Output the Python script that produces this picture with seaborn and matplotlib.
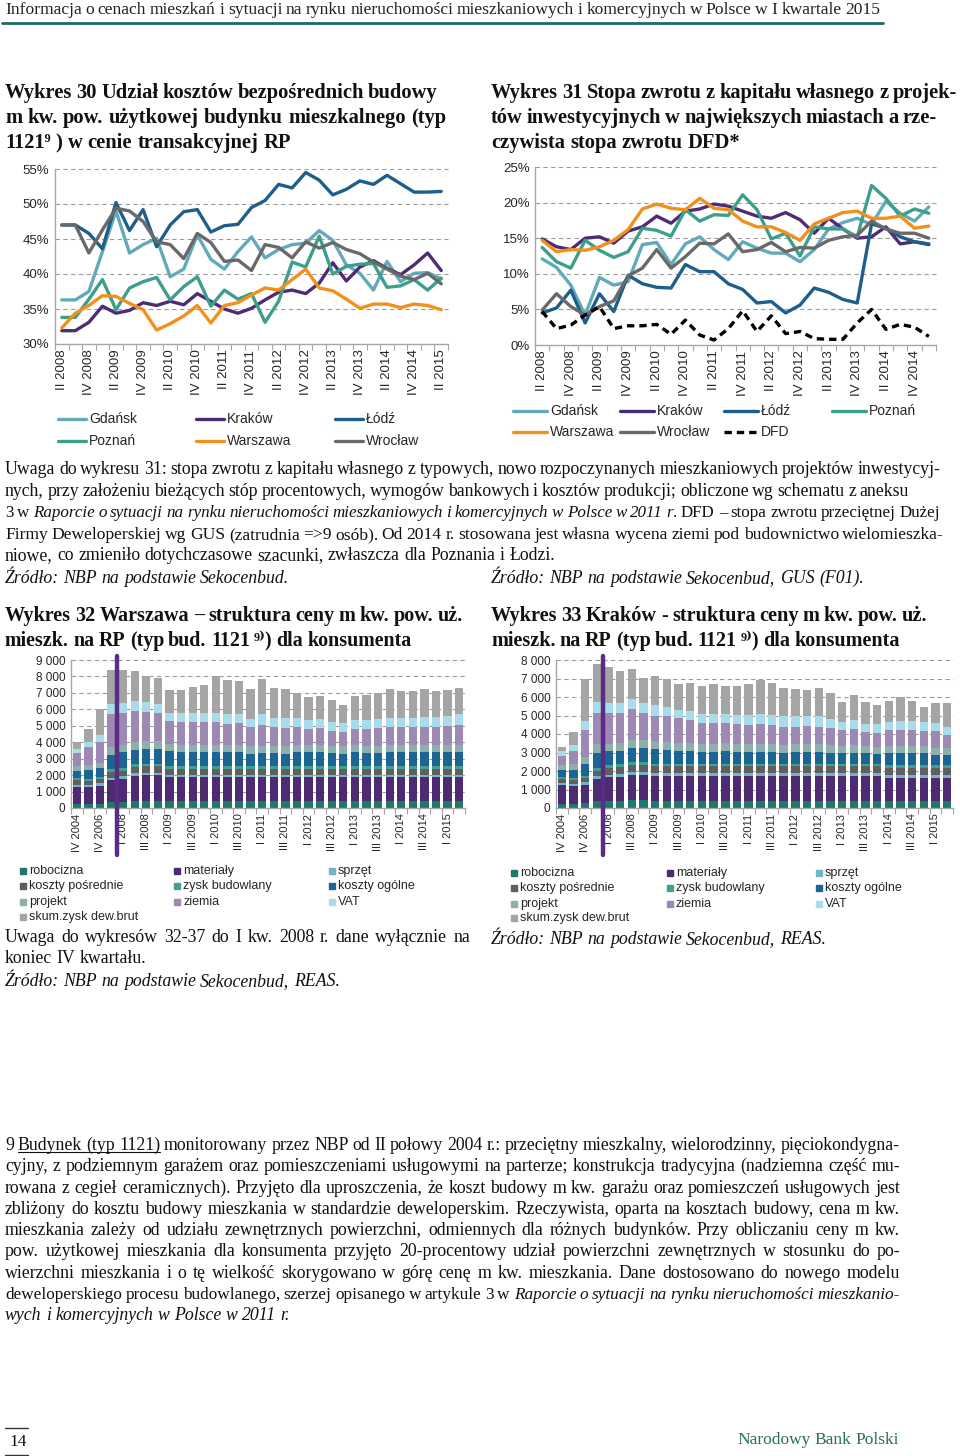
import numpy as np
import pandas as pd
import matplotlib
matplotlib.use('Agg')
import matplotlib.pyplot as plt
from matplotlib.lines import Line2D
from matplotlib.patches import Rectangle
import seaborn as sns

sns.set_theme(style='white')
plt.rcParams['font.family'] = ['Liberation Sans', 'DejaVu Sans']

W, H = 960, 1456
SERIF = ['Liberation Serif', 'DejaVu Serif']
NARROW = ['Liberation Sans Narrow', 'Liberation Sans', 'DejaVu Sans']
BODY = 12.8
TITLE = 14.8


def quarter_labels(year, q, n):
    roman = ['I', 'II', 'III', 'IV']
    out = []
    for _ in range(n):
        out.append(f'{roman[q - 1]} {year}')
        q += 1
        if q == 5:
            q, year = 1, year + 1
    return out


#%% Data - chart 30 (share of direct costs in price, %)
q30 = quarter_labels(2008, 2, 29)
cities = ['Gdańsk', 'Kraków', 'Łódź', 'Poznań', 'Warszawa', 'Wrocław']
city_colors = ['#62A9BA', '#4E2C73', '#1D5F8A', '#3D9E8C', '#F2901D', '#696969']

gdansk_30 = [36.3, 36.3, 37.5, 43.2, 49.0, 43.0, 44.2, 45.1, 39.6, 40.7, 45.6, 42.1, 40.7, 43.2, 45.3,
             42.3, 43.5, 44.2, 44.4, 46.2, 44.8, 41.3, 40.1, 37.7, 41.8, 38.9, 40.1, 40.2, 39.3]
krakow_30 = [31.9, 31.9, 33.1, 35.4, 34.4, 34.8, 35.9, 35.5, 36.1, 35.6, 37.2, 36.1, 35.0, 34.4, 35.1,
             36.3, 37.4, 37.7, 37.2, 38.7, 41.6, 39.0, 41.0, 41.9, 40.8, 39.9, 41.3, 43.0, 40.5]
lodz_30 = [47.0, 47.0, 45.8, 43.6, 50.2, 46.2, 49.2, 43.9, 47.0, 48.9, 49.2, 46.0, 46.9, 47.1, 49.5,
           50.5, 52.8, 52.3, 54.5, 53.4, 51.3, 52.1, 53.3, 52.8, 54.1, 52.9, 51.7, 51.7, 51.8]
poznan_30 = [33.8, 33.8, 36.4, 39.2, 34.9, 38.0, 38.9, 39.5, 36.3, 38.2, 39.6, 35.4, 37.7, 36.4, 37.2,
             33.1, 36.1, 41.7, 41.0, 45.4, 40.0, 41.1, 41.4, 41.5, 38.1, 38.3, 39.2, 37.7, 39.4]
warszawa_30 = [32.3, 34.4, 35.5, 36.9, 36.8, 35.8, 34.9, 32.0, 32.9, 34.0, 35.5, 33.0, 35.5, 35.9, 37.0,
               38.0, 37.7, 39.2, 40.7, 38.0, 37.6, 36.4, 35.1, 35.7, 35.7, 35.2, 35.7, 35.5, 34.9]
wroclaw_30 = [47.0, 47.0, 43.0, 46.3, 49.4, 49.0, 47.5, 44.6, 44.2, 42.2, 45.8, 44.5, 41.8, 42.0, 40.5,
              44.2, 43.8, 42.3, 44.6, 43.7, 44.5, 43.5, 42.9, 41.7, 40.7, 39.7, 39.2, 40.1, 38.6]

#%% Data - chart 31 (return on equity, %)
q31 = quarter_labels(2008, 2, 28)
gdansk_31 = [12.1, 10.9, 8.4, 4.2, 9.5, 8.4, 8.9, 14.1, 14.4, 11.3, 14.2, 15.2, 13.4, 12.0,
             14.5, 13.6, 12.9, 12.9, 11.7, 13.4, 16.3, 17.2, 17.8, 16.9, 20.2, 18.5, 17.4, 19.4]
krakow_31 = [14.9, 13.8, 13.4, 15.0, 15.2, 14.3, 16.0, 16.6, 18.1, 17.1, 18.8, 19.1, 19.8, 19.5,
             18.8, 18.1, 17.8, 18.6, 17.6, 15.7, 17.8, 16.3, 15.0, 15.2, 16.6, 14.2, 14.5, 14.1]
lodz_31 = [4.5, 5.2, 7.7, 3.1, 7.2, 4.7, 9.8, 8.6, 8.1, 8.0, 11.3, 10.3, 10.3, 8.6,
           7.8, 5.9, 6.1, 4.5, 5.6, 8.0, 7.4, 6.4, 5.9, 17.0, 16.4, 15.2, 14.5, 14.2]
poznan_31 = [13.7, 11.7, 10.8, 14.7, 13.3, 12.3, 13.1, 16.4, 16.1, 15.3, 19.0, 17.4, 18.3, 18.2,
             21.1, 19.0, 14.9, 15.7, 12.5, 16.6, 16.3, 16.3, 15.2, 22.4, 20.6, 18.1, 19.1, 18.5]
warszawa_31 = [14.7, 13.1, 13.4, 13.3, 13.8, 14.7, 16.2, 19.1, 19.8, 19.2, 19.0, 20.6, 19.2, 19.0,
               17.4, 16.6, 16.6, 15.8, 14.7, 17.0, 17.8, 18.6, 18.8, 17.8, 17.8, 18.1, 16.4, 16.7]
wroclaw_31 = [4.9, 7.2, 5.4, 4.2, 5.4, 6.2, 9.7, 10.8, 13.4, 10.8, 12.4, 14.3, 14.2, 15.6,
              13.1, 13.4, 14.4, 13.1, 13.7, 13.6, 14.7, 15.2, 15.4, 17.4, 16.3, 15.7, 15.7, 15.0]
dfd_31 = [4.7, 2.3, 2.8, 4.2, 5.4, 2.3, 2.7, 2.7, 2.9, 1.5, 3.5, 1.4, 0.7, 2.3,
          4.8, 1.9, 4.1, 1.6, 1.9, 0.9, 0.8, 0.8, 3.1, 5.0, 2.2, 2.9, 2.5, 1.2]

#%% Data - charts 32/33 (price structure per sq m, PLN)
q_bars = ['IV 2004', 'IV 2005', 'IV 2006', 'IV 2007'] + quarter_labels(2008, 1, 30)
components = ['robocizna', 'materiały', 'sprzęt', 'koszty pośrednie', 'zysk budowlany',
              'koszty ogólne', 'projekt', 'ziemia', 'VAT', 'skum.zysk dew.brut']
comp_colors = ['#1D7A6B', '#4E2A73', '#72B5C8', '#5F5F5F', '#3FA08F',
               '#1C6494', '#8DB0AA', '#9D89B3', '#A9DCEA', '#A5A5A5']

waw = {
    'robocizna': [260, 250, 270, 380, 380, 420, 450, 450, 450, 450, 450, 450, 450, 450, 450, 450, 450,
                  450, 450, 450, 450, 450, 450, 450, 450, 450, 450, 450, 450, 450, 450, 450, 450, 450],
    'materiały': [1020, 1030, 1080, 1320, 1400, 1550, 1550, 1550, 1430, 1430, 1430, 1430, 1430, 1430, 1430,
                  1430, 1430, 1430, 1430, 1430, 1430, 1430, 1430, 1430, 1430, 1430, 1430, 1430, 1430, 1430,
                  1430, 1430, 1430, 1430],
    'sprzęt': [140, 130, 150, 150, 150, 130, 130, 130, 150, 150, 150, 150, 150, 150, 150, 150, 150,
               150, 150, 150, 150, 150, 150, 150, 150, 150, 150, 150, 150, 150, 150, 150, 150, 150],
    'koszty pośrednie': [270, 250, 250, 350, 350, 400, 400, 400, 370, 370, 370, 370, 370, 370, 370, 370, 370,
                         370, 370, 370, 370, 370, 370, 370, 370, 370, 370, 370, 370, 370, 370, 370, 370, 370],
    'zysk budowlany': [140, 130, 130, 150, 150, 150, 150, 150, 150, 150, 150, 150, 150, 150, 150, 150, 150,
                       150, 150, 150, 150, 150, 150, 150, 150, 150, 150, 150, 150, 150, 150, 150, 150, 150],
    'koszty ogólne': [410, 500, 560, 850, 970, 900, 920, 920, 900, 850, 850, 850, 850, 850, 850, 750, 800,
                      800, 750, 850, 850, 850, 800, 750, 850, 800, 800, 850, 850, 850, 850, 850, 850, 850],
    'projekt': [320, 350, 300, 500, 450, 450, 450, 450, 450, 450, 450, 450, 450, 450, 450, 450, 450,
                450, 450, 450, 450, 450, 450, 450, 450, 450, 450, 450, 450, 450, 450, 450, 450, 450],
    'ziemia': [810, 1050, 1300, 2000, 1950, 1900, 1800, 1700, 1400, 1400, 1400, 1350, 1400, 1250, 1300,
               1150, 1250, 1100, 1100, 1050, 950, 1000, 900, 850, 950, 1000, 1050, 1050, 1050, 1050,
               1100, 1100, 1150, 1200],
    'VAT': [210, 300, 420, 600, 600, 600, 600, 550, 500, 500, 550, 550, 550, 600, 550, 500, 650,
            600, 600, 550, 550, 550, 550, 550, 550, 550, 550, 550, 550, 550, 600, 600, 600, 650],
    'skum.zysk dew.brut': [420, 810, 1590, 2100, 2000, 1850, 1600, 1600, 1400, 1450, 1550, 1730, 2200, 2080,
                           2000, 1830, 2150, 1800, 1780, 1570, 1430, 1430, 1300, 1100, 1470, 1500, 1620,
                           1780, 1650, 1650, 1680, 1550, 1570, 1570],
}

krk = {
    'robocizna': [230, 230, 250, 380, 380, 400, 420, 420, 400, 400, 400, 400, 400, 400, 400, 400, 400,
                  400, 400, 400, 400, 400, 400, 400, 400, 400, 400, 400, 400, 400, 400, 400, 400, 400],
    'materiały': [1000, 970, 1000, 1200, 1270, 1300, 1380, 1380, 1320, 1320, 1320, 1320, 1320, 1320, 1320,
                  1320, 1320, 1320, 1320, 1320, 1320, 1320, 1320, 1320, 1320, 1320, 1320, 1320, 1230, 1230,
                  1230, 1230, 1230, 1230],
    'sprzęt': [120, 120, 130, 130, 150, 150, 150, 150, 150, 150, 150, 150, 150, 150, 150, 150, 150,
               150, 150, 150, 150, 150, 150, 150, 150, 150, 150, 150, 150, 150, 150, 150, 150, 150],
    'koszty pośrednie': [200, 200, 250, 300, 380, 380, 380, 380, 380, 380, 380, 380, 380, 380, 380, 380, 380,
                         380, 380, 380, 380, 380, 380, 380, 380, 380, 380, 380, 380, 380, 380, 380, 380, 380],
    'zysk budowlany': [100, 120, 120, 150, 150, 150, 150, 150, 150, 150, 150, 150, 150, 150, 150, 150, 150,
                       150, 150, 150, 150, 150, 150, 150, 150, 150, 150, 150, 150, 150, 150, 150, 150, 150],
    'koszty ogólne': [390, 420, 650, 840, 740, 720, 770, 770, 800, 750, 700, 700, 650, 650, 700, 650, 650,
                      650, 650, 600, 650, 650, 650, 600, 550, 600, 550, 500, 640, 640, 640, 640, 540, 540],
    'projekt': [260, 300, 350, 450, 400, 400, 400, 400, 400, 400, 400, 400, 400, 400, 400, 400, 400,
                400, 400, 400, 400, 400, 400, 400, 400, 400, 400, 400, 400, 400, 400, 400, 400, 400],
    'ziemia': [520, 740, 1450, 1700, 1680, 1650, 1700, 1500, 1400, 1400, 1350, 1250, 1150, 1150, 1100,
               1100, 1050, 1100, 1050, 1000, 950, 1000, 950, 900, 850, 850, 750, 750, 850, 850,
               850, 800, 900, 700],
    'VAT': [250, 300, 500, 600, 550, 550, 550, 500, 550, 500, 450, 500, 500, 500, 500, 500, 550,
            550, 550, 550, 550, 500, 550, 500, 450, 500, 450, 500, 450, 500, 500, 500, 450, 450],
    'skum.zysk dew.brut': [230, 700, 2300, 2050, 1900, 1680, 1600, 1400, 1570, 1550, 1400, 1530, 1480, 1620,
                           1500, 1550, 1650, 1800, 1700, 1550, 1470, 1450, 1550, 1400, 1080, 1370, 1180,
                           1030, 1150, 1280, 1060, 830, 1050, 1260],
}

#%% Figure and helpers (all positions in page pixels)
fig = plt.figure(figsize=(W / 100, H / 100), dpi=100)
fig.patch.set_facecolor('white')
renderer = fig.canvas.get_renderer()


def fx(x):
    return x / W


def fy(y):
    return 1 - y / H


def axes_px(l, t, r, b):
    return fig.add_axes([l / W, 1 - b / H, (r - l) / W, (b - t) / H])


def put_line(x, y, parts, size=BODY, width=None, color='#111111', weight='normal'):
    # parts: list of (text, style) with style 'n' normal, 'i' italic, 'u' underlined
    words = [[]]
    for text, st in parts:
        for k, c in enumerate(text.split(' ')):
            if k > 0:
                words.append([])
            if c:
                words[-1].append((c, st))
    words = [w for w in words if w]
    placed, total = [], 0
    for w in words:
        segs = []
        for c, st in w:
            t = fig.text(0, fy(y), c, fontsize=size, family=SERIF, color=color, va='baseline',
                         ha='left', fontweight=weight, fontstyle='italic' if st == 'i' else 'normal')
            segs.append([t, t.get_window_extent(renderer).width, st])
        placed.append(segs)
        total += sum(s[1] for s in segs)
    gap = size * 100 / 72 * 0.25
    if width is not None and len(placed) > 1:
        need = total + 0.85 * gap * (len(placed) - 1)
        if need > width:
            # line too long for the column: shrink its type a little
            f = width / need
            for segs in placed:
                for s in segs:
                    s[0].set_fontsize(size * f)
                    s[1] *= f
            total *= f
        gap = (width - total) / (len(placed) - 1)
    cx = x
    under = []
    for segs in placed:
        for t, wd, st in segs:
            t.set_x(fx(cx))
            if st == 'u':
                under += [cx, cx + wd]
            cx += wd
        cx += gap
    if under:
        fig.add_artist(Line2D([fx(min(under)), fx(max(under))], [fy(y + 2)] * 2, color=color, lw=0.8))


def style_axes(ax, labels, ylim, yticks, yfmt, xsize, ysize):
    n = len(labels)
    ax.set_xlim(-0.5, n - 0.5)
    ax.set_ylim(*ylim)
    ax.set_yticks(yticks)
    ax.set_yticklabels([yfmt(v) for v in yticks], fontsize=ysize)
    ax.set_xticks(np.arange(0, n, 2))
    ax.set_xticklabels(labels[::2], rotation=90, fontsize=xsize)
    ax.set_xticks(np.arange(-0.5, n, 1), minor=True)
    ax.tick_params(axis='x', which='major', length=0, pad=4, bottom=True)
    ax.tick_params(axis='x', which='minor', length=4, color='#A6A6A6', width=0.8,
                   direction='out', bottom=True)
    ax.tick_params(axis='y', length=0, pad=4)
    ax.grid(False)
    for v in yticks[1:]:
        ax.axhline(v, color='#9C9C9C', lw=0.8, ls=(0, (4, 3)), zorder=0, clip_on=False)
    for s in ['top', 'right']:
        ax.spines[s].set_visible(False)
    for s in ['left', 'bottom']:
        ax.spines[s].set_color('#A6A6A6')
        ax.spines[s].set_linewidth(1.0)
    ax.set_xlabel('')
    ax.set_ylabel('')
    ax.set_facecolor('white')


def leg_line(x0, x1, y, color, label, dashed=False, size=10):
    ls = (0, (2.2, 1.5)) if dashed else '-'
    fig.add_artist(Line2D([fx(x0), fx(x1)], [fy(y)] * 2, color=color, lw=2.4, ls=ls))
    fig.text(fx(x1 + 3), fy(y), label, fontsize=size, family=NARROW, va='center', ha='left')


def leg_box(x, y, color, label, size=9):
    fig.add_artist(Rectangle((fx(x), fy(y + 3)), 6 / W, 6 / H, color=color,
                             transform=fig.transFigure))
    fig.text(fx(x + 9), fy(y), label, fontsize=size, family=NARROW, va='center', ha='left')


def pct(v):
    return f'{v}%'


def thousands(v):
    return f'{v:,}'.replace(',', ' ')


#%% Page header
put_line(5, 14, [('Informacja o cenach mieszkań i sytuacji na rynku nieruchomości mieszkaniowych '
                  'i komercyjnych w Polsce w I kwartale 2015', 'n')], size=12.6, width=875, color='#222222')
fig.add_artist(Line2D([fx(2), fx(883)], [fy(23)] * 2, color='#1E6B5C', lw=2))

#%% Chart 30
put_line(5, 98, [('Wykres 30 Udział kosztów bezpośrednich budowy', 'n')], size=TITLE, width=432, weight='bold')
put_line(5, 123, [('m kw. pow. użytkowej budynku mieszkalnego (typ', 'n')], size=TITLE, width=441, weight='bold')
put_line(5, 148, [('1121⁹ ) w cenie transakcyjnej RP', 'n')], size=TITLE, weight='bold')

ax30 = axes_px(55, 169, 448, 344)
long30 = pd.DataFrame({
    'x': np.tile(np.arange(len(q30)), len(cities)),
    'value': np.concatenate([gdansk_30, krakow_30, lodz_30, poznan_30, warszawa_30, wroclaw_30]),
    'city': np.repeat(cities, len(q30)),
})
sns.lineplot(data=long30, x='x', y='value', hue='city', hue_order=cities,
             palette=dict(zip(cities, city_colors)), linewidth=2.4, errorbar=None,
             legend=False, ax=ax30)
style_axes(ax30, q30, (30, 55), [30, 35, 40, 45, 50, 55], pct, 9.5, 9.5)

leg_cols30 = [(58, 86), (196, 224), (335, 363)]
for k, (name, col) in enumerate(zip(cities, city_colors)):
    x0, x1 = leg_cols30[k % 3]
    leg_line(x0, x1, 419 if k < 3 else 441, col, name)

#%% Chart 31
put_line(491, 98, [('Wykres 31 Stopa zwrotu z kapitału własnego z projek-', 'n')], size=TITLE, width=466, weight='bold')
put_line(491, 123, [('tów inwestycyjnych w największych miastach a rze-', 'n')], size=TITLE, width=446, weight='bold')
put_line(491, 148, [('czywista stopa zwrotu DFD*', 'n')], size=TITLE, weight='bold')

ax31 = axes_px(535, 167, 936, 345)
long31 = pd.DataFrame({
    'x': np.tile(np.arange(len(q31)), len(cities)),
    'value': np.concatenate([gdansk_31, krakow_31, lodz_31, poznan_31, warszawa_31, wroclaw_31]),
    'city': np.repeat(cities, len(q31)),
})
sns.lineplot(data=long31, x='x', y='value', hue='city', hue_order=cities,
             palette=dict(zip(cities, city_colors)), linewidth=2.4, errorbar=None,
             legend=False, ax=ax31)
sns.lineplot(x=np.arange(len(q31)), y=dfd_31, color='black', linewidth=2.4,
             linestyle=(0, (2.2, 1.5)), errorbar=None, ax=ax31)
style_axes(ax31, q31, (0, 25), [0, 5, 10, 15, 20, 25], pct, 9.5, 9.5)

leg31 = [('Gdańsk', city_colors[0], 513, 411, False), ('Kraków', city_colors[1], 620, 411, False),
         ('Łódź', city_colors[2], 724, 411, False), ('Poznań', city_colors[3], 832, 411, False),
         ('Warszawa', city_colors[4], 513, 432, False), ('Wrocław', city_colors[5], 620, 432, False),
         ('DFD', 'black', 724, 432, True)]
for name, col, x0, y0, dashed in leg31:
    leg_line(x0, x0 + 34, y0, col, name, dashed=dashed)

#%% Notes under charts 30/31
put_line(5, 474, [('Uwaga do wykresu 31: stopa zwrotu z kapitału własnego z typowych, nowo rozpoczynanych '
                   'mieszkaniowych projektów inwestycyj-', 'n')], width=935)
put_line(5, 496, [('nych, przy założeniu bieżących stóp procentowych, wymogów bankowych i kosztów produkcji; '
                   'obliczone wg schematu z aneksu', 'n')], width=904)
put_line(5, 517, [('3 w ', 'n'),
                  ('Raporcie o sytuacji na rynku nieruchomości mieszkaniowych i komercyjnych w Polsce w 2011 r', 'i'),
                  ('. DFD – stopa zwrotu przeciętnej Dużej', 'n')], width=935)
put_line(5, 539, [('Firmy Deweloperskiej wg GUS (zatrudnia =>9 osób). Od 2014 r. stosowana jest własna wycena '
                   'ziemi pod budownictwo wielomieszka-', 'n')], width=939)
put_line(5, 560, [('niowe, co zmieniło dotychczasowe szacunki, zwłaszcza dla Poznania i Łodzi.', 'n')])
put_line(5, 583, [('Źródło: NBP na podstawie Sekocenbud.', 'i')])
put_line(491, 583, [('Źródło: NBP na podstawie Sekocenbud, GUS (F01).', 'i')])


#%% Charts 32 and 33 - stacked bars
def stacked(ax, data):
    x = np.arange(len(q_bars))
    bottom = np.zeros(len(q_bars))
    for name, col in zip(components, comp_colors):
        vals = np.array(data[name], dtype=float)
        ax.bar(x, vals, bottom=bottom, width=0.72, color=col, linewidth=0, zorder=2)
        bottom += vals
    ax.axvline(3.5, ymin=-0.32, ymax=1.03, color='#5B2C83', lw=3.2, clip_on=False, zorder=3)


put_line(5, 621, [('Wykres 32 Warszawa – struktura ceny m kw. pow. uż.', 'n')], size=TITLE, width=458, weight='bold')
put_line(5, 646, [('mieszk. na RP (typ bud. 1121 ⁹⁾) dla konsumenta', 'n')], size=TITLE, width=407, weight='bold')
put_line(491, 621, [('Wykres 33 Kraków - struktura ceny m kw. pow. uż.', 'n')], size=TITLE, width=436, weight='bold')
put_line(491, 646, [('mieszk. na RP (typ bud. 1121 ⁹⁾) dla konsumenta', 'n')], size=TITLE, width=408, weight='bold')

ax32 = axes_px(71, 660, 465, 808)
stacked(ax32, waw)
style_axes(ax32, q_bars, (0, 9000), list(range(0, 9001, 1000)), thousands, 8, 8.5)

ax33 = axes_px(556, 660, 953, 808)
stacked(ax33, krk)
style_axes(ax33, q_bars, (0, 8000), list(range(0, 8001, 1000)), thousands, 8, 8.5)

# legends laid out in three columns, filled column by column
leg_order = [0, 3, 6, 9, 1, 4, 7, 2, 5, 8]
for cols, rows in [((20, 174, 329), (871, 886, 902, 917)), ((511, 667, 816), (873, 888, 904, 918))]:
    slots = [(cols[0], rows[0]), (cols[0], rows[1]), (cols[0], rows[2]), (cols[0], rows[3]),
             (cols[1], rows[0]), (cols[1], rows[1]), (cols[1], rows[2]),
             (cols[2], rows[0]), (cols[2], rows[1]), (cols[2], rows[2])]
    for (sx, sy), idx in zip(slots, leg_order):
        leg_box(sx, sy, comp_colors[idx], components[idx])

put_line(5, 942, [('Uwaga do wykresów 32-37 do I kw. 2008 r. dane wyłącznie na', 'n')], width=465)
put_line(5, 963, [('koniec IV kwartału.', 'n')])
put_line(5, 986, [('Źródło: NBP na podstawie Sekocenbud, REAS.', 'i')])
put_line(491, 944, [('Źródło: NBP na podstawie Sekocenbud, REAS.', 'i')])

#%% Footnote
foot = [
    ([('9 ', 'n'), ('Budynek (typ 1121)', 'u'),
      (' monitorowany przez NBP od II połowy 2004 r.: przeciętny mieszkalny, wielorodzinny, pięciokondygna-', 'n')], 895),
    ([('cyjny, z podziemnym garażem oraz pomieszczeniami usługowymi na parterze; konstrukcja tradycyjna '
       '(nadziemna część mu-', 'n')], 895),
    ([('rowana z cegieł ceramicznych). Przyjęto dla uproszczenia, że koszt budowy m kw. garażu oraz '
       'pomieszczeń usługowych jest', 'n')], 895),
    ([('zbliżony do kosztu budowy mieszkania w standardzie deweloperskim. Rzeczywista, oparta na kosztach '
       'budowy, cena m kw.', 'n')], 895),
    ([('mieszkania zależy od udziału zewnętrznych powierzchni, odmiennych dla różnych budynków. Przy '
       'obliczaniu ceny m kw.', 'n')], 895),
    ([('pow. użytkowej mieszkania dla konsumenta przyjęto 20-procentowy udział powierzchni zewnętrznych '
       'w stosunku do po-', 'n')], 895),
    ([('wierzchni mieszkania i o tę wielkość skorygowano w górę cenę m kw. mieszkania. Dane dostosowano '
       'do nowego modelu', 'n')], 895),
    ([('deweloperskiego procesu budowlanego, szerzej opisanego w artykule 3 w ', 'n'),
      ('Raporcie o sytuacji na rynku nieruchomości mieszkanio-', 'i')], 895),
    ([('wych i komercyjnych w Polsce w 2011 r.', 'i')], None),
]
for k, (parts, wd) in enumerate(foot):
    put_line(5, 1150 + k * 21.3, parts, width=wd)

#%% Page footer
fig.add_artist(Line2D([fx(5), fx(28)], [fy(1428)] * 2, color='#333333', lw=1))
fig.add_artist(Line2D([fx(5), fx(28)], [fy(1455)] * 2, color='#333333', lw=1))
put_line(9, 1446, [('14', 'n')], size=12.5)
put_line(737, 1444, [('Narodowy Bank Polski', 'n')], size=12.5, color='#2A6E63')

fig.savefig('out.png', dpi=100, facecolor='white')
